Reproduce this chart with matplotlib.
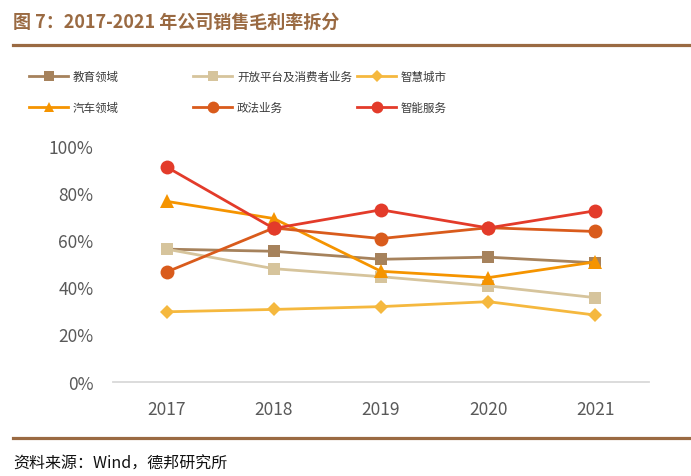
import matplotlib
matplotlib.use("Agg")
import matplotlib.pyplot as plt
from matplotlib.lines import Line2D
from matplotlib.ticker import PercentFormatter

plt.rcParams['font.family'] = ['Noto Sans CJK SC', 'DejaVu Sans']

years = ['2017', '2018', '2019', '2020', '2021']
series_names = ['教育领域', '开放平台及消费者业务', '智慧城市', '汽车领域', '政法业务', '智能服务']
edu = [0.562, 0.553, 0.519, 0.528, 0.504]
open_platform = [0.562, 0.479, 0.445, 0.406, 0.356]
smart_city = [0.296, 0.306, 0.318, 0.339, 0.282]
auto = [0.765, 0.692, 0.468, 0.441, 0.508]
law = [0.465, 0.652, 0.607, 0.653, 0.637]
smart_service = [0.911, 0.650, 0.729, 0.652, 0.725]
yticks = [0, 0.2, 0.4, 0.6, 0.8, 1.0]

series = [edu, open_platform, smart_city, auto, law, smart_service]
colors = ['#A6825C', '#D6C49C', '#F5B83E', '#F59400', '#D95B1C', '#E33B2A']
markers = ['s', 's', 'D', '^', 'o', 'o']
msizes = [9, 9, 7, 9.5, 10, 10]

fig = plt.figure(figsize=(6.91, 4.77), dpi=100)
ax = fig.add_axes([113/691, 1-382.5/477, (649-113)/691, (382.5-147)/477])

x = list(range(len(years)))
for i, (vals, c, m, ms) in enumerate(zip(series, colors, markers, msizes)):
    ax.plot(x, vals, color=c, marker=m, markersize=ms, linewidth=2.0,
            markeredgewidth=0, zorder=3 + i, clip_on=False)

ax.set_xlim(-0.5, len(years) - 0.5)
ax.set_ylim(0, 1)
ax.set_xticks(x)
ax.set_xticklabels(years)
ax.set_yticks(yticks)
ax.yaxis.set_major_formatter(PercentFormatter(1.0, decimals=0))
for s in ['top', 'right', 'left']:
    ax.spines[s].set_visible(False)
ax.spines['bottom'].set_color('#D9D9D9')
ax.spines['bottom'].set_linewidth(1.3)
ax.tick_params(axis='both', length=0, labelsize=12.5, labelcolor='#595959')
ax.tick_params(axis='y', pad=14)
ax.tick_params(axis='x', pad=13)

# legend (manual layout, figure coordinates)
leg_cols = [29, 193, 357]
leg_rows = [77, 108]
order = [(0, 0, 0), (1, 0, 1), (2, 0, 2), (3, 1, 0), (4, 1, 1), (5, 1, 2)]
leg_ms = [7, 7, 6, 7.5, 8.5, 8.5]
for idx, r, cidx in order:
    x0 = leg_cols[cidx] / 691
    x1 = (leg_cols[cidx] + 39) / 691
    yy = 1 - leg_rows[r] / 477
    fig.add_artist(Line2D([x0, x1], [yy, yy], color=colors[idx], linewidth=2.0,
                          transform=fig.transFigure))
    fig.add_artist(Line2D([(x0 + x1) / 2], [yy], color=colors[idx], marker=markers[idx],
                          markersize=leg_ms[idx], markeredgewidth=0, linestyle='none',
                          transform=fig.transFigure))
    fig.text((leg_cols[cidx] + 44) / 691, yy, series_names[idx], fontsize=8.3,
             color='#3A3A3A', va='center', ha='left')

# title and rules
title_color = '#9A6A42'
fig.text(13/691, 1-22/477, '图 7：2017-2021 年公司销售毛利率拆分', fontsize=13,
         fontweight='bold', color=title_color, va='center', ha='left')
fig.add_artist(Line2D([13/691, 690/691], [1-46/477, 1-46/477], color=title_color,
                      linewidth=2.3, transform=fig.transFigure))
fig.add_artist(Line2D([13/691, 690/691], [1-438.5/477, 1-438.5/477], color=title_color,
                      linewidth=2.3, transform=fig.transFigure))
fig.text(13/691, 1-464/477, '资料来源：Wind，德邦研究所', fontsize=11.5,
         color='#111111', va='center', ha='left')

fig.savefig('out.png', dpi=100)
